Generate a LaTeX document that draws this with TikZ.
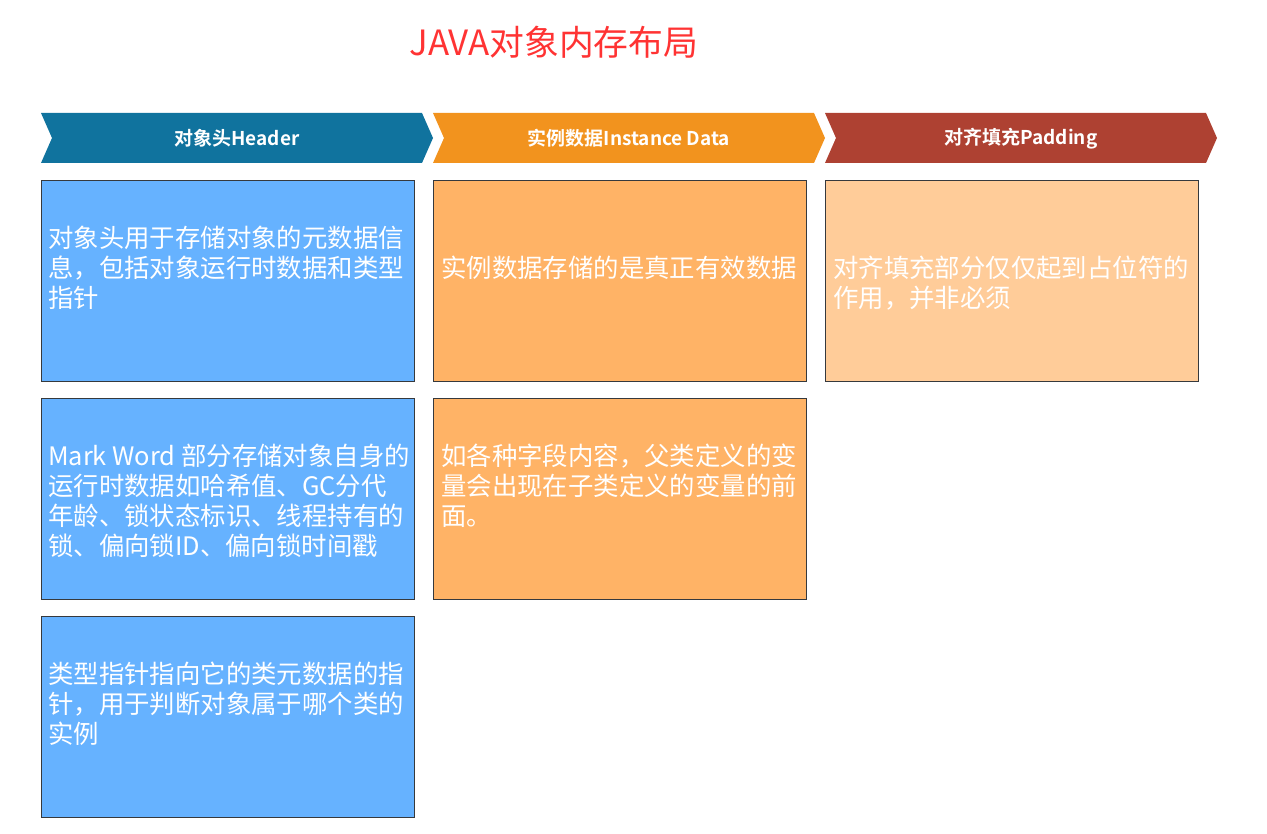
\documentclass[tikz,border=0pt]{standalone}
\usepackage{fontspec}
\setmainfont{Noto Sans CJK SC}[BoldFont={Noto Sans CJK SC Bold}]
\usetikzlibrary{positioning}

\definecolor{hdrblue}{HTML}{10739E}
\definecolor{datorange}{HTML}{F2931E}
\definecolor{padred}{HTML}{AE4132}
\definecolor{hdrfill}{HTML}{66B2FF}
\definecolor{datfill}{HTML}{FFB366}
\definecolor{padfill}{HTML}{FFCC99}
\definecolor{boxline}{HTML}{36393D}
\definecolor{titlered}{HTML}{FF3333}

\tikzset{
  cell/.style={draw=boxline, line width=1pt, inner sep=0pt, anchor=north west,
    minimum width=373pt, minimum height=201pt},
  celltext/.style={text=white, inner sep=0pt, anchor=north west, align=left,
    font=\fontsize{25.4}{30}\selectfont},
  chevtext/.style={text=white, font=\fontsize{19}{23}\selectfont\bfseries}
}

\begin{document}
\begin{tikzpicture}[x=1pt, y=-1pt]
				\useasboundingbox (0,0) rectangle (1267,834);
				% Title
				\node[text=titlered, font=\fontsize{34.8}{40}\selectfont] (title) at (554,42) {JAVA对象内存布局};
				% Chevrons
				\foreach \x/\col/\lab [count=\i] in {41/hdrblue/{对象头Header}, 433/datorange/{实例数据Instance Data}, 825/padred/{对齐填充Padding}}{
					\fill[\col] (\x,113) -- ++(381,0) -- ++(11,25) -- ++(-11,25) -- ++(-381,0) -- ++(11,-25) -- cycle;
					\node[chevtext] (chev\i) at (\x+196,138.5) {\lab};
				}
				% Header column
				\node[cell, fill=hdrfill] (hdr1) at (41,180) {};
				\node[cell, fill=hdrfill] (hdr2) at (41,398) {};
				\node[cell, fill=hdrfill] (hdr3) at (41,616) {};
				% Instance data column
				\node[cell, fill=datfill] (dat1) at (433,180) {};
				\node[cell, fill=datfill] (dat2) at (433,398) {};
				% Padding column
				\node[cell, fill=padfill] (pad1) at (825,180) {};
				% Texts
				\node[celltext] (hdr1txt) at ([shift={(7,46)}]hdr1.north west) {对象头用于存储对象的元数据信\\息，包括对象运行时数据和类型\\指针};
				\node[celltext] (hdr2txt) at ([shift={(7,46)}]hdr2.north west) {Mark Word 部分存储对象自身的\\运行时数据如哈希值、GC分代\\年龄、锁状态标识、线程持有的\\锁、偏向锁ID、偏向锁时间戳};
				\node[celltext] (hdr3txt) at ([shift={(7,46)}]hdr3.north west) {类型指针指向它的类元数据的指\\针，用于判断对象属于哪个类的\\实例};
				\node[celltext] (dat1txt) at ([shift={(8,76)}]dat1.north west) {实例数据存储的是真正有效数据};
				\node[celltext] (dat2txt) at ([shift={(8,46)}]dat2.north west) {如各种字段内容，父类定义的变\\量会出现在子类定义的变量的前\\面。};
				\node[celltext] (pad1txt) at ([shift={(8,76)}]pad1.north west) {对齐填充部分仅仅起到占位符的\\作用，并非必须};
			\end{tikzpicture}
\end{document}
